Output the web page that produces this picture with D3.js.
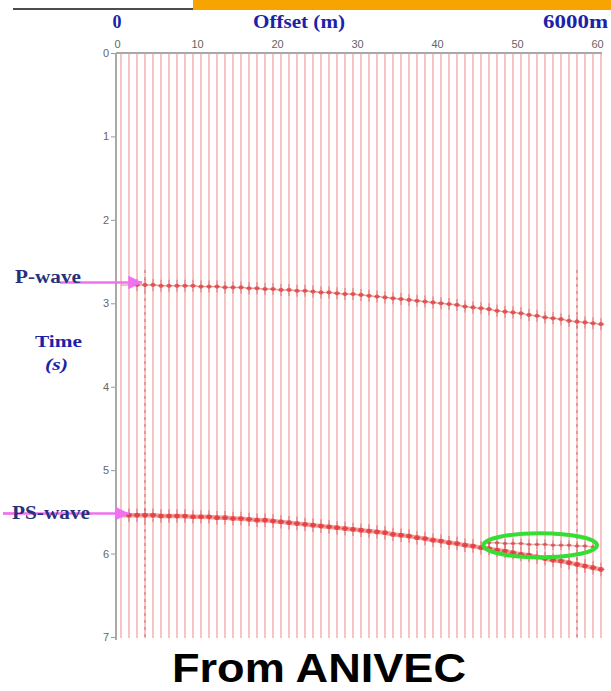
<!DOCTYPE html>
<html><head><meta charset="utf-8">
<script src="https://cdn.jsdelivr.net/npm/d3@7"></script>
<style>body{margin:0;background:#fff}svg{display:block}</style>
</head><body>
<svg id="c" width="611" height="691"></svg>
<script>
// ---- data ----
const offsetTicks = [0, 10, 20, 30, 40, 50, 60];
const timeTicks = [0, 1, 2, 3, 4, 5, 6, 7];
const traceOffsets = d3.range(0.5, 61, 1); // 61 traces
const pArrival = [2.78,2.78,2.78,2.78,2.78,2.79,2.79,2.79,2.79,2.79,2.80,
  2.80,2.80,2.81,2.81,2.81,2.82,2.82,2.83,2.83,2.84,
  2.84,2.85,2.85,2.86,2.87,2.87,2.88,2.89,2.89,2.90,
  2.91,2.92,2.93,2.94,2.95,2.96,2.97,2.98,2.99,3.00,
  3.01,3.02,3.04,3.05,3.06,3.07,3.09,3.10,3.11,3.12,
  3.14,3.15,3.17,3.18,3.19,3.21,3.22,3.23,3.24,3.25];
const psArrival = [5.54,5.54,5.54,5.54,5.54,5.55,5.55,5.55,5.55,5.56,5.56,
  5.56,5.57,5.57,5.58,5.58,5.59,5.60,5.60,5.61,5.62,
  5.63,5.64,5.65,5.66,5.67,5.68,5.69,5.70,5.71,5.72,
  5.73,5.74,5.75,5.77,5.78,5.79,5.81,5.82,5.84,5.85,
  5.87,5.88,5.90,5.91,5.93,5.94,5.96,5.97,5.99,6.01,
  6.02,6.04,6.06,6.08,6.09,6.11,6.13,6.15,6.17,6.19];
const splitTraces = [46,47,48,49,50,51,52,53,54,55,56,57,58,59];
const splitArrival = [5.87,5.87,5.88,5.88,5.88,5.89,5.89,5.89,5.90,5.90,5.90,5.91,5.91,5.92];
const darkTraces = [3, 57];
const ellipse = {offset: 52.9, time: 5.90, dOffset: 7.1, dTime: 0.145};
const waveLabels = [{name: "P-wave", time: 2.75}, {name: "PS-wave", time: 5.52}];

// ---- chart ----
const svg = d3.select("#c");
const x = d3.scaleLinear().domain([0, 60]).range([117, 597]);
const y = d3.scaleLinear().domain([0, 7]).range([53, 637]);
const serif = "Liberation Serif, Times New Roman, serif";

// header bar
svg.append("rect").attr("x", 193).attr("y", 0).attr("width", 418).attr("height", 10).attr("fill", "#f7a300");
svg.append("line").attr("x1", 13).attr("x2", 193).attr("y1", 9).attr("y2", 9).attr("stroke", "#111").attr("stroke-width", 1.6);

const blue = "#1c22a8";
function btext(t, xx, yy, size, len, anchor) {
  const el = svg.append("text").attr("x", xx).attr("y", yy).attr("text-anchor", anchor || "start")
    .attr("font-family", serif).attr("font-weight", "bold").attr("font-size", size).attr("fill", blue).text(t);
  if (len) el.attr("textLength", len).attr("lengthAdjust", "spacingAndGlyphs");
  return el;
}
btext("0", x(0), 28, 18, null, "middle");
btext("Offset (m)", 253, 28, 18, 92);
btext("6000m", 543, 28, 18, 65);

// traces
const traces = svg.append("g");
traceOffsets.forEach((o) => {
  traces.append("line").attr("x1", x(o)).attr("x2", x(o)).attr("y1", y(0)).attr("y2", y(7) + 1)
    .attr("stroke", "#f6b4b4").attr("stroke-width", 1.6);
});
darkTraces.forEach(i => {
  const o = traceOffsets[i];
  traces.append("line").attr("x1", x(o)).attr("x2", x(o)).attr("y1", y(2.6)).attr("y2", y(7))
    .attr("stroke", "#dc7a7a").attr("stroke-width", 1.2).attr("stroke-dasharray", "3,4");
});

// wavelets
function wavelets(offs, times, size, col) {
  const g = svg.append("g");
  offs.forEach((o, i) => {
    const cx = x(o), cy = y(times[i]);
    g.append("line").attr("x1", cx).attr("x2", cx).attr("y1", cy - size * 2.4).attr("y2", cy + size * 2.4)
      .attr("stroke", col).attr("stroke-width", 1.3).attr("opacity", 0.5);
    g.append("line").attr("x1", cx - size * 1.3).attr("x2", cx + size * 1.3).attr("y1", cy).attr("y2", cy)
      .attr("stroke", col).attr("stroke-width", 1.2).attr("opacity", 0.6);
    g.append("ellipse").attr("cx", cx).attr("cy", cy).attr("rx", size).attr("ry", size * 0.85)
      .attr("fill", col).attr("opacity", 0.8);
  });
  return g;
}
const line = d3.line().x((d, i) => x(traceOffsets[i])).y(d => y(d)).curve(d3.curveBasis);
svg.append("path").attr("d", line(pArrival)).attr("fill", "none").attr("stroke", "#e67070").attr("stroke-width", 1.5).attr("opacity", 0.6);
wavelets(traceOffsets.slice(2), pArrival.slice(2), 2.5, "#e04848");
// PS-wave band
svg.append("path").attr("d", line(psArrival)).attr("fill", "none").attr("stroke", "#ec5a5a").attr("stroke-width", 4.5).attr("opacity", 0.55);
wavelets(traceOffsets.slice(1), psArrival.slice(1), 2.8, "#e23a3a");
// split branch
const sline = d3.line().x((d, i) => x(traceOffsets[splitTraces[i]])).y(d => y(d));
svg.append("path").attr("d", sline(splitArrival)).attr("fill", "none").attr("stroke", "#e06868").attr("stroke-width", 1.5).attr("opacity", 0.5);
wavelets(splitTraces.map(i => traceOffsets[i]), splitArrival, 2, "#d85050");

// axes
svg.append("line").attr("x1", 116).attr("x2", 116).attr("y1", y(0)).attr("y2", y(7) + 3).attr("stroke", "#a9a9a9").attr("stroke-width", 2);
svg.append("line").attr("x1", 116).attr("x2", 602).attr("y1", y(0)).attr("y2", y(0)).attr("stroke", "#a9a9a9").attr("stroke-width", 2);

const ax = svg.append("g").attr("transform", `translate(0,${y(0) - 3})`)
  .call(d3.axisTop(x).tickValues(offsetTicks).tickFormat(d3.format("d")).tickSize(0).tickPadding(2));
const ay = svg.append("g").attr("transform", "translate(115,0)")
  .call(d3.axisLeft(y).tickValues(timeTicks).tickFormat(d3.format("d")).tickSize(4).tickPadding(2));
[ax, ay].forEach(a => {
  a.select(".domain").remove();
  a.selectAll("text").attr("font-family", "Liberation Sans Narrow, Arial Narrow, Liberation Sans, sans-serif")
    .attr("font-size", 11).attr("fill", "#666");
  a.selectAll("line").attr("stroke", "#999");
});

// labels
const navy = "#27307a";
const arrowCol = "#f070f0";
svg.append("defs").append("marker").attr("id", "ah").attr("viewBox", "0 0 10 10").attr("refX", 10).attr("refY", 5)
  .attr("markerWidth", 5.5).attr("markerHeight", 5.5).attr("markerUnits", "strokeWidth").attr("orient", "auto")
  .append("path").attr("d", "M0,0L10,5L0,10z").attr("fill", arrowCol);

function wtext(t, xx, yy, len) {
  svg.append("text").attr("x", xx).attr("y", yy).attr("font-family", serif)
    .attr("font-weight", "bold").attr("font-size", 18).attr("fill", navy)
    .attr("textLength", len).attr("lengthAdjust", "spacingAndGlyphs").text(t);
}
svg.append("line").attr("x1", 60).attr("x2", 142).attr("y1", y(waveLabels[0].time)).attr("y2", y(waveLabels[0].time))
  .attr("stroke", arrowCol).attr("stroke-width", 2.5).attr("marker-end", "url(#ah)");
wtext(waveLabels[0].name, 15, y(waveLabels[0].time) + 1, 66);

svg.append("line").attr("x1", 3).attr("x2", 129).attr("y1", y(waveLabels[1].time)).attr("y2", y(waveLabels[1].time))
  .attr("stroke", arrowCol).attr("stroke-width", 2.5).attr("marker-end", "url(#ah)");
wtext(waveLabels[1].name, 12, y(waveLabels[1].time) + 5, 78);
svg.append("line").attr("x1", 3).attr("x2", 14).attr("y1", y(waveLabels[1].time)).attr("y2", y(waveLabels[1].time))
  .attr("stroke", arrowCol).attr("stroke-width", 2);

btext("Time", 35, 347, 17, 47);
svg.append("text").attr("x", 45).attr("y", 370).attr("font-family", serif)
  .attr("font-weight", "bold").attr("font-style", "italic").attr("font-size", 17).attr("fill", blue)
  .attr("textLength", 23).attr("lengthAdjust", "spacingAndGlyphs").text("(s)");

// green ellipse
svg.append("ellipse").attr("cx", x(ellipse.offset)).attr("cy", y(ellipse.time))
  .attr("rx", x(ellipse.dOffset) - x(0)).attr("ry", y(ellipse.dTime) - y(0))
  .attr("fill", "none").attr("stroke", "#35dd35").attr("stroke-width", 4);

// footer
svg.append("text").attr("x", 172).attr("y", 682)
  .attr("font-family", "Liberation Sans, Arial, sans-serif").attr("font-weight", "bold").attr("font-size", 40)
  .attr("textLength", 294).attr("lengthAdjust", "spacingAndGlyphs")
  .attr("fill", "#000").text("From ANIVEC");
</script>
</body></html>
